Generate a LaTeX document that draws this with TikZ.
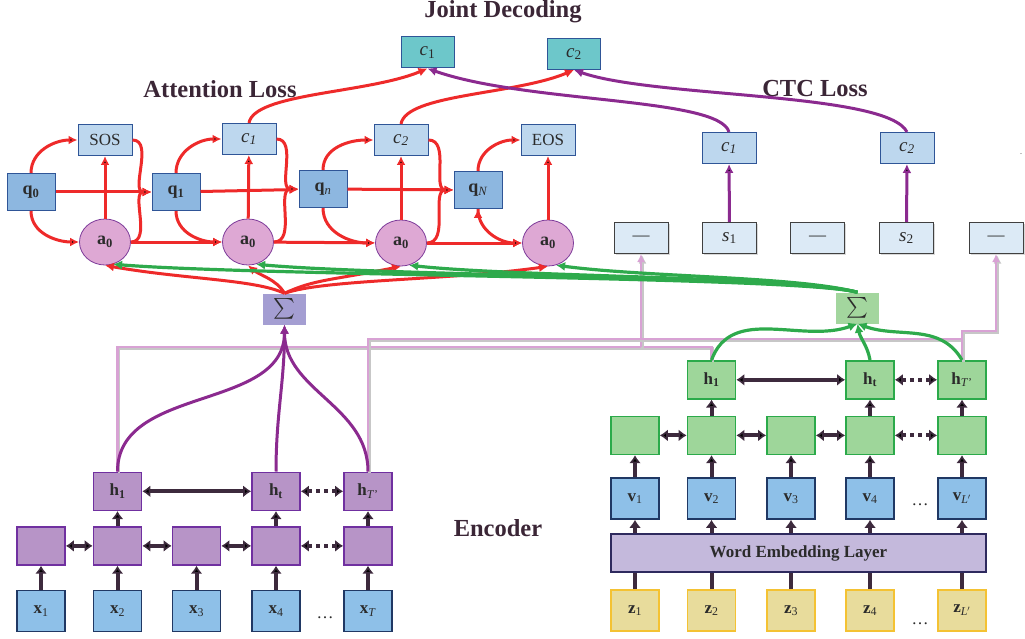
\documentclass[tikz,border=0pt]{standalone}
\usepackage{fontspec}
\setmainfont{Liberation Serif}
\usepackage{amsmath}
\usepackage{tikz}
\usetikzlibrary{positioning}
\usetikzlibrary{shapes.geometric}
\usetikzlibrary{shadows}
\usetikzlibrary{arrows.meta}

\definecolor{attred}{HTML}{EE2A2A}
\definecolor{ctcpurple}{HTML}{8B2A8F}
\definecolor{encgreen}{HTML}{2EAA4C}
\definecolor{linkpink}{HTML}{D8A2D4}
\definecolor{darkarrow}{HTML}{3D2A3D}
\definecolor{boxblue}{HTML}{2F5597}
\definecolor{navy}{HTML}{203864}
\definecolor{tealfill}{HTML}{6DC7CA}
\definecolor{lightfill}{HTML}{BDD7EE}
\definecolor{paleblue}{HTML}{DCEAF6}
\definecolor{qfill}{HTML}{8DB7E0}
\definecolor{afill}{HTML}{DEA8D4}
\definecolor{attborder}{HTML}{7E3C9A}
\definecolor{lborder}{HTML}{7030A0}
\definecolor{purplefill}{HTML}{B794C7}
\definecolor{gborder}{HTML}{2BAA4A}
\definecolor{greenfill}{HTML}{9ED69A}
\definecolor{xfill}{HTML}{8EC0E8}
\definecolor{welfill}{HTML}{C4B9DC}
\definecolor{welborder}{HTML}{2E2A5E}
\definecolor{zfill}{HTML}{E8DC9C}
\definecolor{zborder}{HTML}{F4C233}
\definecolor{lsumfill}{HTML}{A49ED2}
\definecolor{rsumfill}{HTML}{A3D69E}
\definecolor{labeltext}{HTML}{2B2B2B}
\definecolor{titletext}{HTML}{3B2636}

\begin{document}
\begin{tikzpicture}[
    x=1pt, y=-1pt,
    node distance=24pt and 28pt,
    font=\fontsize{17}{20}\selectfont,
    every node/.style={text=labeltext},
    losstitle/.style={font=\fontsize{24.5}{28}\selectfont\bfseries, text=titletext, anchor=base, inner sep=0pt},
    cfont/.style={font=\fontsize{19}{22}\selectfont},
    jointbox/.style={draw=boxblue, fill=tealfill, line width=1pt, minimum width=53, minimum height=31, cfont},
    outbox/.style={draw=boxblue, fill=lightfill, line width=1pt, minimum width=54, minimum height=31},
    qbox/.style={draw=boxblue, fill=qfill, line width=1pt, minimum width=48, minimum height=37, font=\fontsize{18}{20}\selectfont},
    attnode/.style={draw=attborder, fill=afill, ellipse, line width=0.8pt, minimum width=51, minimum height=46, inner sep=0pt, font=\fontsize{18}{20}\selectfont},
    blankbox/.style={draw=black!75, fill=paleblue, line width=1pt, minimum width=54, minimum height=31, drop shadow={shadow xshift=1.5pt, shadow yshift=-1.5pt, opacity=0.3}},
    sumbox/.style={minimum width=43, minimum height=31, inner sep=0pt, font=\fontsize{20}{22}\selectfont},
    lstate/.style={draw=lborder, fill=purplefill, line width=1.6pt, minimum width=48, minimum height=38},
    rstate/.style={draw=gborder, fill=greenfill, line width=1.6pt, minimum width=48, minimum height=38},
    inbox/.style={draw=navy, fill=xfill, line width=1.6pt, minimum width=48, minimum height=41},
    zbox/.style={draw=zborder, fill=zfill, line width=1.6pt, minimum width=48, minimum height=41},
    welbox/.style={draw=welborder, fill=welfill, line width=1.6pt, minimum width=375, minimum height=38, font=\fontsize{17}{20}\selectfont\bfseries},
    redline/.style={draw=attred, line width=3pt, -{Latex[length=9pt,width=9pt]}},
    ctcline/.style={draw=ctcpurple, line width=3pt, -{Latex[length=9pt,width=9pt]}},
    sumline/.style={draw=encgreen, line width=3.2pt, -{Latex[length=9pt,width=9pt]}},
    hline/.style={draw=ctcpurple, line width=3pt, -{Latex[length=9pt,width=9pt]}},
    encline/.style={draw=darkarrow, line width=4pt, -{Latex[length=8pt,width=12pt]}},
    plainline/.style={draw=darkarrow, line width=4pt},
    bothline/.style={draw=darkarrow, line width=4pt, {Latex[length=8pt,width=12pt]}-{Latex[length=8pt,width=12pt]}},
    linkline/.style={draw=linkpink, line width=2.4pt, preaction={draw=black!22, line width=2.4pt, transform canvas={xshift=1.5pt, yshift=-1.5pt}}}
    ]

    \useasboundingbox (0,0) rectangle (1025,639);

    \node[losstitle] (jdtitle) at (503,18) {Joint Decoding};
    \node[losstitle] (atttitle) at (220,98) {Attention Loss};
    \node[losstitle] (ctctitle) at (815,97) {CTC Loss};
    \node[losstitle] (enctitle) at (498,536) {Encoder};

    \node[jointbox] (jc1) at (427.5,52.5) {\textit{c}\textsubscript{1}};
    \node[jointbox] (jc2) at (574,54) {\textit{c}\textsubscript{2}};

    % attention decoder
    \node[qbox] (q0) at (31,192) {\textbf{q\textsubscript{0}}};
    \node[qbox] (q1) at (176,192) {\textbf{q\textsubscript{1}}};
    \node[qbox] (qn) at (323,189) {\textbf{q}\textsubscript{\textit{n}}};
    \node[qbox] (qN) at (478,190) {\textbf{q}\textsubscript{\textit{N}}};
    \node[outbox] (sos) at (105,140) {SOS};
    \node[outbox, cfont] (ac1) at (249,139) {\textit{c\textsubscript{1}}};
    \node[outbox, cfont] (ac2) at (401,140) {\textit{c\textsubscript{2}}};
    \node[outbox] (eos) at (548,140) {EOS};
    \node[attnode] (a01) at (105,242) {\textbf{a\textsubscript{0}}};
    \node[attnode] (a02) at (248,242) {\textbf{a\textsubscript{0}}};
    \node[attnode] (a03) at (401,243) {\textbf{a\textsubscript{0}}};
    \node[attnode] (a04) at (548,243) {\textbf{a\textsubscript{0}}};

    % ctc
    \node[outbox, cfont] (cc1) at (729,148) {\textit{c\textsubscript{1}}};
    \node[outbox, cfont] (cc2) at (907,148) {\textit{c\textsubscript{2}}};
    \node[blankbox] (b1) at (641,238) {\textemdash};
    \node[blankbox, cfont] (s1) at (729.5,238) {\textit{s}\textsubscript{1}};
    \node[blankbox] (b2) at (817.5,238) {\textemdash};
    \node[blankbox, cfont] (s2) at (906.5,238) {\textit{s}\textsubscript{2}};
    \node[blankbox] (b3) at (996,238) {\textemdash};
    \node[font=\fontsize{8}{9}\selectfont] (dot) at (1021,154) {.};

    \node[sumbox, fill=lsumfill] (lsum) at (284.5,309) {$\sum$};
    \node[sumbox, fill=rsumfill] (rsum) at (857.5,308) {$\sum$};

    % left encoder
    \node[inbox] (lx1) at (41,611) {\textbf{x}\textsubscript{1}};
    \node[inbox] (lx2) at (117.5,611) {\textbf{x}\textsubscript{2}};
    \node[inbox] (lx3) at (196.5,611) {\textbf{x}\textsubscript{3}};
    \node[inbox] (lx4) at (276,611) {\textbf{x}\textsubscript{4}};
    \node[inbox] (lx5) at (368,611) {\textbf{x}\textsubscript{\textit{T}}};
    \node (ldots) at (325,618) {\dots};
    \node[lstate, above=24pt of lx1] (lm1) {};
    \node[lstate, above=24pt of lx2] (lm2) {};
    \node[lstate, above=24pt of lx3] (lm3) {};
    \node[lstate, above=24pt of lx4] (lm4) {};
    \node[lstate, above=24pt of lx5] (lm5) {};
    \node[lstate, above=15pt of lm2] (lh1) {\textbf{h\textsubscript{1}}};
    \node[lstate, above=15pt of lm4] (lht) {\textbf{h\textsubscript{t}}};
    \node[lstate, above=15pt of lm5] (lhT) {\textbf{h}\textsubscript{\textit{T}'}};

    % right encoder
    \node[zbox] (rz1) at (635,610.5) {\textbf{z}\textsubscript{1}};
    \node[zbox] (rz2) at (711.5,610.5) {\textbf{z}\textsubscript{2}};
    \node[zbox] (rz3) at (791,610.5) {\textbf{z}\textsubscript{3}};
    \node[zbox] (rz4) at (870,610.5) {\textbf{z}\textsubscript{4}};
    \node[zbox] (rz5) at (962,610.5) {\textbf{z}\textsubscript{\textit{L}$'$}};
    \node (rdots) at (920,624) {\dots};
    \node[welbox] (wel) at (798.5,553) {Word Embedding Layer};
    \node[inbox] (rv1) at (635,498.5) {\textbf{v}\textsubscript{1}};
    \node[inbox] (rv2) at (711.5,498.5) {\textbf{v}\textsubscript{2}};
    \node[inbox] (rv3) at (791,498.5) {\textbf{v}\textsubscript{3}};
    \node[inbox] (rv4) at (870,498.5) {\textbf{v}\textsubscript{4}};
    \node[inbox] (rv5) at (962,498.5) {\textbf{v}\textsubscript{\textit{L}$'$}};
    \node (vdots) at (920,505) {\dots};
    \node[rstate, above=22pt of rv1] (rm1) {};
    \node[rstate, above=22pt of rv2] (rm2) {};
    \node[rstate, above=22pt of rv3] (rm3) {};
    \node[rstate, above=22pt of rv4] (rm4) {};
    \node[rstate, above=22pt of rv5] (rm5) {};
    \node[rstate, above=16pt of rm2] (rh1) {\textbf{h\textsubscript{1}}};
    \node[rstate, above=16pt of rm4] (rht) {\textbf{h\textsubscript{t}}};
    \node[rstate, above=16pt of rm5] (rhT) {\textbf{h}\textsubscript{\textit{T}'}};

    % links to the blank labels
    \coordinate (pa) at (641,347);
    \coordinate (pb) at (962,339);
    \coordinate (pc) at (980,331);
    \draw[linkline] (lh1.north) |- (pa) -| (rh1.north);
    \draw[linkline, -{Latex[length=8pt,width=8pt]}] (pa) -- (b1);
    \draw[linkline] (lhT.north) |- (pb);
    \draw[linkline, -{Latex[length=8pt,width=8pt]}] (rhT.north) |- (pc) -| (b3.south);

    \path[redline]
    (q0) edge (q1)
    (q1) edge (qn)
    (qn) edge (qN)
    (a01) edge (a02)
    (a02) edge (a03)
    (a03) edge (a04)
    (a01) edge (sos)
    (a02) edge (ac1)
    (a03) edge (ac2)
    (a04) edge (eos)
    (q0.north) edge[out=90,in=180] (sos.west)
    (q0.south) edge[out=-90,in=180] (a01.west)
    (sos.east) edge[out=0,in=180] (q1.west)
    (a01.east) edge[out=0,in=180] (q1.west)
    (q1.north) edge[out=90,in=180] (ac1.west)
    (q1.south) edge[out=-90,in=180] (a02.west)
    (ac1.east) edge[out=0,in=180] (qn.west)
    (a02.east) edge[out=0,in=180] (qn.west)
    (qn.north) edge[out=90,in=180] (ac2.west)
    (qn.south) edge[out=-90,in=180] (a03.west)
    (ac2.east) edge[out=0,in=180] (qN.west)
    (a03.east) edge[out=0,in=180] (qN.west)
    (qN.north) edge[out=90,in=180] (eos.west)
    (qN.south) edge[out=-90,in=180] (a04.west)
    ;

    \draw[redline] (ac1.north) .. controls +(5,-30) and +(-60,25) .. (jc1.south);
    \draw[redline] (ac2.north) .. controls +(5,-30) and +(-60,25) .. (jc2.south);
    \draw[ctcline] (cc1.north) .. controls +(-10,-35) and +(100,35) .. (jc1.south);
    \draw[ctcline] (cc2.north) .. controls +(-20,-40) and +(80,28) .. (jc2.south);
    \path[ctcline] (s1) edge (cc1) (s2) edge (cc2);

    % attention inputs
    \draw[redline] (lsum.north) .. controls +(-30,-14) and +(80,14) .. (a01.south);
    \draw[redline] (lsum.north) .. controls +(-8,-14) and +(12,10) .. (a02.south);
    \draw[redline] (lsum.north) .. controls +(30,-14) and +(-70,14) .. (a03.south);
    \draw[redline] (lsum.north) .. controls +(40,-14) and +(-100,14) .. (a04.south);
    \draw[sumline] (rsum.north) .. controls +(-60,-16) and +(150,12) .. (a01.-70);
    \draw[sumline] (rsum.north) .. controls +(-60,-16) and +(130,12) .. (a02.-70);
    \draw[sumline] (rsum.north) .. controls +(-60,-16) and +(110,12) .. (a03.-70);
    \draw[sumline] (rsum.north) .. controls +(-60,-16) and +(90,12) .. (a04.-70);

    \draw[hline] (lh1.north) to[out=90,in=-90] (lsum.south);
    \draw[hline] (lht.north) to[out=90,in=-90] (lsum.south);
    \draw[hline] (lhT.north) to[out=90,in=-90] (lsum.south);
    \draw[sumline] (rh1.north) to[out=70,in=-160] (rsum.south);
    \draw[sumline] (rht.north) to[out=100,in=-80] (rsum.south);
    \draw[sumline] (rhT.north) to[out=120,in=-20] (rsum.south);

    \path[encline]
    (lx1) edge (lm1)
    (lx2) edge (lm2)
    (lx3) edge (lm3)
    (lx4) edge (lm4)
    (lx5) edge (lm5)
    (lm2) edge (lh1)
    (lm4) edge (lht)
    (lm5) edge (lhT)
    (rv1) edge (rm1)
    (rv2) edge (rm2)
    (rv3) edge (rm3)
    (rv4) edge (rm4)
    (rv5) edge (rm5)
    (rm2) edge (rh1)
    (rm4) edge (rht)
    (rm5) edge (rhT)
    ;
    \draw[encline] (wel.north -| rv1) -- (rv1);
    \draw[encline] (wel.north -| rv2) -- (rv2);
    \draw[encline] (wel.north -| rv3) -- (rv3);
    \draw[encline] (wel.north -| rv4) -- (rv4);
    \draw[encline] (wel.north -| rv5) -- (rv5);
    \draw[plainline] (rz1) -- (wel.south -| rz1);
    \draw[plainline] (rz2) -- (wel.south -| rz2);
    \draw[plainline] (rz3) -- (wel.south -| rz3);
    \draw[plainline] (rz4) -- (wel.south -| rz4);
    \draw[plainline] (rz5) -- (wel.south -| rz5);
    \path[bothline]
    (lm1) edge (lm2)
    (lm2) edge (lm3)
    (lm3) edge (lm4)
    (lh1) edge (lht)
    (rm1) edge (rm2)
    (rm2) edge (rm3)
    (rm3) edge (rm4)
    (rh1) edge (rht)
    ;
    \path[bothline, dash pattern=on 4pt off 4pt]
    (lm4) edge (lm5)
    (lht) edge (lhT)
    (rm4) edge (rm5)
    (rht) edge (rhT)
    ;

  \end{tikzpicture}
\end{document}
